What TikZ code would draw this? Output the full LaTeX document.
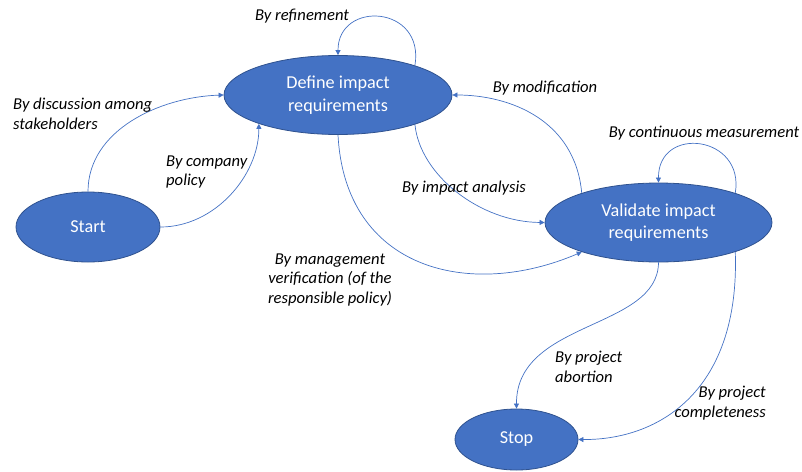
\documentclass[tikz,border=0pt]{standalone}
\usepackage{fontspec}
\setmainfont{Carlito}
\usetikzlibrary{shapes.geometric,arrows.meta}
\definecolor{nodeblue}{HTML}{4472C4}
\definecolor{edgeblue}{HTML}{4472C4}
\definecolor{borderblue}{HTML}{2F528F}
\begin{document}
\begin{tikzpicture}[x=1pt,y=-1pt,
 state/.style={ellipse,draw=borderblue,line width=0.8pt,fill=nodeblue,text=white,inner sep=0pt,font=\fontsize{18.2}{22.5}\selectfont,align=center},
 conn/.style={draw=edgeblue,line width=0.7pt,-{Triangle[length=5pt,width=5pt]}},
 lbl/.style={font=\fontsize{16.6}{19.5}\selectfont\itshape,inner sep=0pt,text=black}]
\useasboundingbox (0,0) rectangle (802,471);
\node[state,minimum width=228pt,minimum height=79pt] (define) at (338,95) {Define impact\\requirements};
\node[state,minimum width=144pt,minimum height=70pt] (start) at (88,227) {Start};
\node[state,minimum width=227pt,minimum height=79pt] (validate) at (658.5,222.5) {Validate impact\\requirements};
\node[state,minimum width=123pt,minimum height=61pt] (stop) at (516.5,439.5) {Stop};

\draw[conn] (start.north) .. controls (88,130) and (160,97) .. (define.west);
\draw[conn] (start.east) .. controls (215,227) and (259,175) .. (define.-160);
\draw[conn] (define.21) .. controls (425,5) and (338,0) .. (define.north);
\draw[conn] (define.-21) .. controls (420,175) and (480,222) .. (validate.west);
\draw[conn] (validate.159) .. controls (575,120) and (510,95) .. (define.east);
\draw[conn] (define.south) .. controls (345,270) and (470,300) .. (validate.201);
\draw[conn] (validate.21) .. controls (745,135) and (658,125) .. (validate.north);
\draw[conn] (validate.south) .. controls (658,330) and (516,320) .. (stop.north);
\draw[conn] (validate.-21) .. controls (740,390) and (660,440) .. (stop.east);

\node[lbl] (lref) at (302,16) {By refinement};
\node[lbl,anchor=west,align=left] (ldisc) at (13,114) {By discussion among\\stakeholders};
\node[lbl,anchor=west,align=left] (lcomp) at (166,172) {By company\\policy};
\node[lbl] (lmod) at (545,88) {By modification};
\node[lbl] (limp) at (464,188) {By impact analysis};
\node[lbl] (lcont) at (704,133) {By continuous measurement};
\node[lbl,align=center] (lman) at (330,280) {By management\\verification (of the\\responsible policy)};
\node[lbl,anchor=west,align=left] (labo) at (555,367) {By project\\abortion};
\node[lbl,anchor=east,align=right] (lcpl) at (766,403) {By project\\completeness};
\end{tikzpicture}
\end{document}
